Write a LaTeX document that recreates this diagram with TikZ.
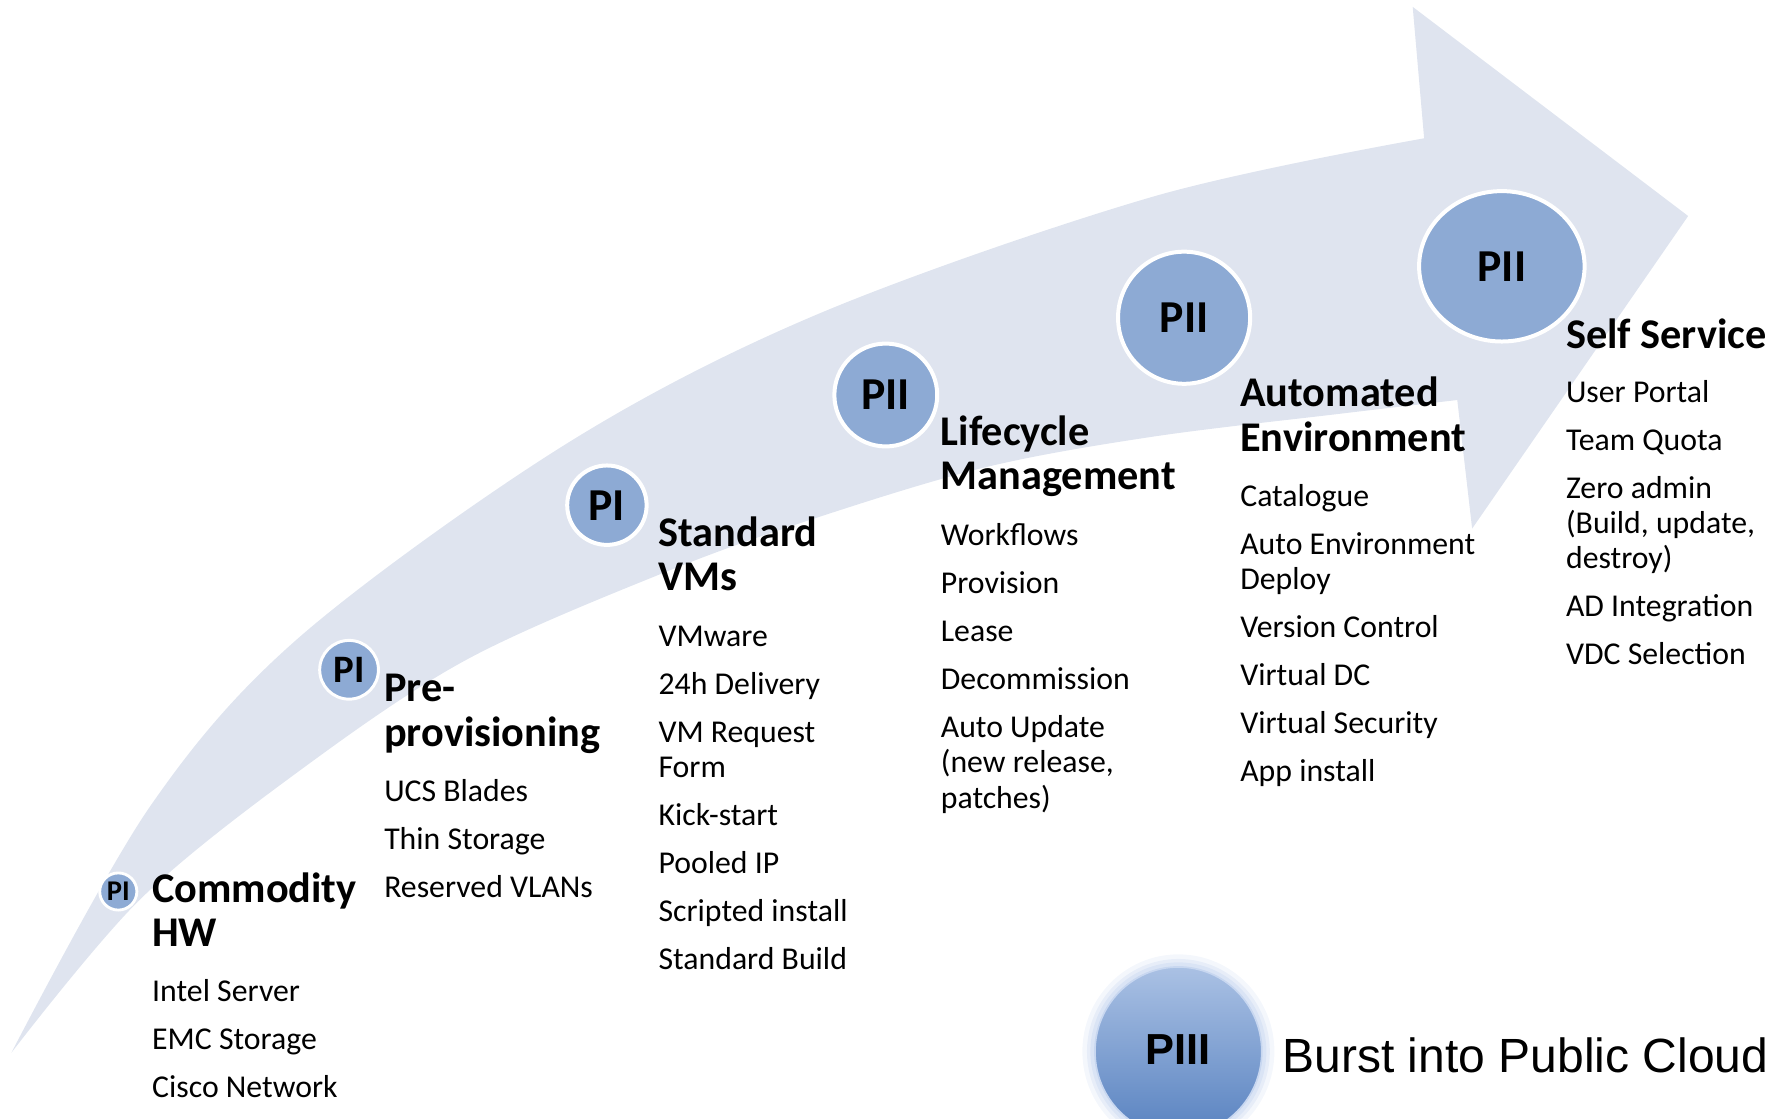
\documentclass[tikz,border=0pt]{standalone}
\usepackage{fontspec}
\setmainfont{Carlito}
\newfontfamily\arialfont{Liberation Sans}
\usetikzlibrary{shapes.geometric}
\definecolor{arrowfill}{RGB}{223,228,239}
\definecolor{discfill}{RGB}{141,170,212}
\definecolor{piiitop}{RGB}{170,193,228}
\definecolor{piiibot}{RGB}{88,130,192}
\definecolor{glowc}{RGB}{200,215,240}
\begin{document}
\begin{tikzpicture}[x=1pt,y=-1pt,
  head/.style={anchor=base west,inner sep=0pt,font=\fontsize{37}{38}\selectfont\bfseries},
  item/.style={anchor=base west,inner sep=0pt,font=\fontsize{27.8}{30}\selectfont},
  disc/.style={ellipse,fill=discfill,draw=white,inner sep=0pt,font=\bfseries},
]
\useasboundingbox (0,0) rectangle (1560,979);
\clip (0,0) rectangle (1560,979);

% big curved arrow
\fill[arrowfill] plot[smooth,tension=0.55] coordinates {(10,921) (131,706) (262.5,557) (496,388) (717.5,274) (1009,172) (1246,121)}
  -- (1236,6) -- (1477,189) -- (1288,462.5) -- (1275,350)
  -- plot[smooth,tension=0.55] coordinates {(1275,350) (1172.5,362) (1009,382) (863.5,408.5) (717.5,452) (586,499) (408.5,577) (262.5,674) (122.5,787) (10,921)}
  -- cycle;

% phase discs
\node[disc,line width=2.5pt,minimum width=32.5pt,minimum height=32.5pt,font=\fontsize{25}{25}\selectfont\bfseries] (d1) at (103.5,780) {PI};
\node[disc,line width=2.6pt,minimum width=51.4pt,minimum height=51.4pt,font=\fontsize{34}{34}\selectfont\bfseries] (d2) at (305.4,586) {PI\hspace{6pt}};
\node[disc,line width=3.5pt,minimum width=69.5pt,minimum height=69.5pt,font=\fontsize{40}{40}\selectfont\bfseries] (d3) at (531,442) {PI\hspace{12pt}};
\node[disc,line width=3.5pt,minimum width=90pt,minimum height=90pt,font=\fontsize{40}{40}\selectfont\bfseries] (d4) at (775,345.6) {\raisebox{-4pt}{PII}\hspace{12pt}};
\node[disc,line width=3.5pt,minimum width=115.6pt,minimum height=115.6pt,font=\fontsize{40}{40}\selectfont\bfseries] (d5) at (1036,278) {\raisebox{-3pt}{PII}\hspace{12pt}};
\node[disc,line width=3.5pt,minimum width=144.8pt,minimum height=131.6pt,font=\fontsize{40}{40}\selectfont\bfseries] (d6) at (1314,233) {PII};

% PIII disc with glow
\fill[glowc,opacity=0.2] (1031,920) ellipse (84pt and 85pt);
\fill[glowc,opacity=0.3] (1031,920) ellipse (80pt and 81pt);
\fill[glowc,opacity=0.4] (1031,920) ellipse (77pt and 78pt);
\node[ellipse,minimum width=146pt,minimum height=148pt,inner sep=0pt,top color=piiitop,bottom color=piiibot,draw=glowc,line width=1.5pt,font=\arialfont\fontsize{38}{38}\selectfont\bfseries] (d7) at (1031,920) {\raisebox{4pt}{PIII}\hspace{6pt}};
\node[anchor=base west,inner sep=0pt,font=\arialfont\fontsize{42}{42}\selectfont] (burst) at (1122,938) {Burst into Public Cloud};

% Commodity HW
\node[head] (c1) at (133,790) {Commodity};
\node[head] (c2) at (133,828) {HW};
\node[item] (c3) at (133,876) {Intel Server};
\node[item] (c4) at (133,918) {EMC Storage};
\node[item] (c5) at (133,960) {Cisco Network};

% Pre-provisioning
\node[head] (p1) at (336,614) {Pre-};
\node[head] (p2) at (336,653) {provisioning};
\node[item] (p3) at (336,701) {UCS Blades};
\node[item] (p4) at (336,743) {Thin Storage};
\node[item] (p5) at (336,785) {Reserved VLANs};

% Standard VMs
\node[head] (s1) at (576,478) {Standard};
\node[head] (s2) at (576,517) {VMs};
\node[item] (s3) at (576,565.5) {VMware};
\node[item] (s4) at (576,607.5) {24h Delivery};
\node[item] (s5) at (576,649.5) {VM Request};
\node[item] (s6) at (576,680.5) {Form};
\node[item] (s7) at (576,722.5) {Kick-start};
\node[item] (s8) at (576,764.5) {Pooled IP};
\node[item] (s9) at (576,806.5) {Scripted install};
\node[item] (s10) at (576,848.5) {Standard Build};

% Lifecycle Management
\node[head] (l1) at (823,389.5) {Lifecycle};
\node[head] (l2) at (823,428.5) {Management};
\node[item] (l3) at (823,477) {Workflows};
\node[item] (l4) at (823,519) {Provision};
\node[item] (l5) at (823,561) {Lease};
\node[item] (l6) at (823,603) {Decommission};
\node[item] (l7) at (823,645) {Auto Update};
\node[item] (l8) at (823,676) {(new release,};
\node[item] (l9) at (823,707) {patches)};

% Automated Environment
\node[head] (a1) at (1085,356) {Automated};
\node[head] (a2) at (1085,395) {Environment};
\node[item] (a3) at (1085,443) {Catalogue};
\node[item] (a4) at (1085,485) {Auto Environment};
\node[item] (a5) at (1085,515.5) {Deploy};
\node[item] (a6) at (1085,557.5) {Version Control};
\node[item] (a7) at (1085,599.5) {Virtual DC};
\node[item] (a8) at (1085,641.5) {Virtual Security};
\node[item] (a9) at (1085,683.5) {App install};

% Self Service
\node[head] (f1) at (1370,305) {Self Service};
\node[item] (f2) at (1370,352) {User Portal};
\node[item] (f3) at (1370,394) {Team Quota};
\node[item] (f4) at (1370,436) {Zero admin};
\node[item] (f5) at (1370,466.5) {(Build, update,};
\node[item] (f6) at (1370,497) {destroy)};
\node[item] (f7) at (1370,539) {AD Integration};
\node[item] (f8) at (1370,581) {VDC Selection};
\end{tikzpicture}
\end{document}
